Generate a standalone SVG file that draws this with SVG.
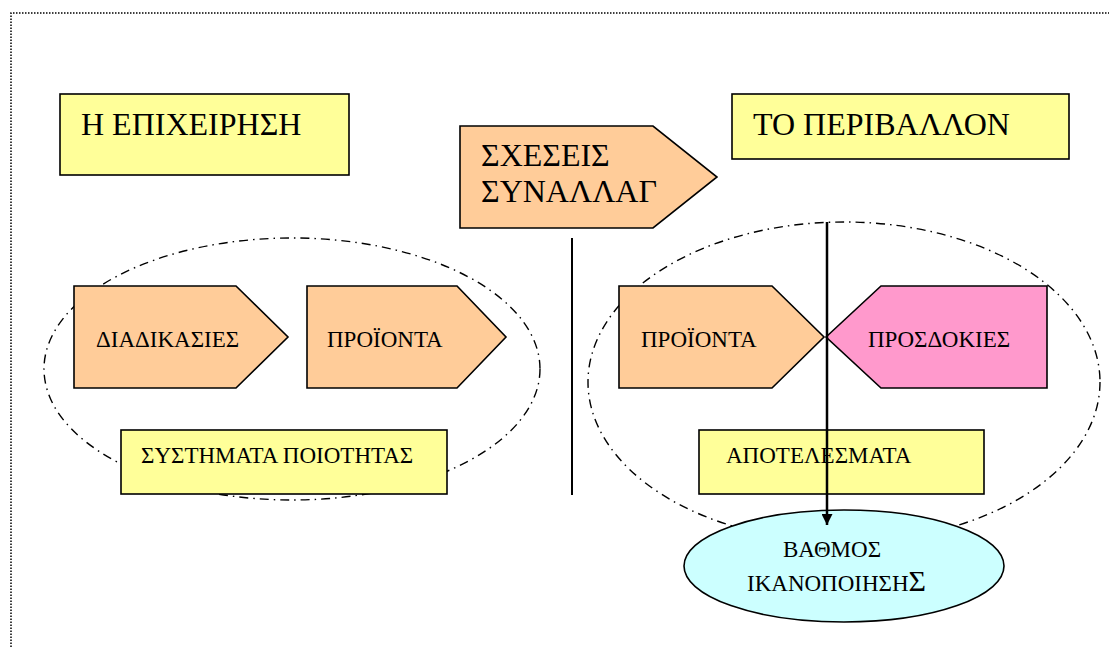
<svg xmlns="http://www.w3.org/2000/svg" width="1109" height="647" viewBox="0 0 1109 647">
  <style>
    .frame { fill: none; stroke: #000; stroke-width: 1.5; stroke-dasharray: 1.5 1.5; }
    .group { fill: none; stroke: #000; stroke-width: 1.4; stroke-dasharray: 9 5 1.5 5; }
    .box { fill: #FFFF99; stroke: #000; stroke-width: 1.6; }
    .orange { fill: #FFCC99; stroke: #000; stroke-width: 1.6; }
    .pink { fill: #FF99CC; stroke: #000; stroke-width: 1.6; }
    .result { fill: #CCFFFF; stroke: #000; stroke-width: 1.6; }
    .conn { fill: none; stroke: #000; stroke-width: 2.5; }
    text { font-family: "Liberation Serif", "DejaVu Serif", "Noto Serif", serif; fill: #000; }
    .big { font-size: 32px; }
    .small { font-size: 23px; }
  </style>
  <defs>
    <marker id="head" viewBox="0 0 10 10" refX="10" refY="5" markerWidth="4.4" markerHeight="4.4" markerUnits="strokeWidth" orient="auto">
      <path d="M0,0 L10,5 L0,10 Z" fill="#000"/>
    </marker>
  </defs>

  <rect width="1109" height="647" fill="#fff"/>

  <!-- page frame -->
  <path class="frame" d="M11,647 V13 H1109"/>

  <!-- grouping ellipses -->
  <g id="groups">
    <ellipse class="group" cx="292" cy="369" rx="248" ry="131"/>
    <ellipse class="group" cx="844" cy="382" rx="256" ry="160"/>
  </g>

  <g id="company">
    <rect class="box" x="60" y="94" width="289" height="81"/>
    <text class="big" x="81" y="135" font-family="Liberation Serif, DejaVu Serif, serif">Η ΕΠΙΧΕΙΡΗΣΗ</text>
  </g>

  <g id="environment">
    <rect class="box" x="732" y="94" width="337" height="65"/>
    <text class="big" x="753" y="135">ΤΟ ΠΕΡΙΒΑΛΛΟΝ</text>
  </g>

  <g id="transactions">
    <polygon class="orange" points="460,126 653,126 717,177 653,228 460,228"/>
    <text class="big" x="481" y="166">ΣΧΕΣΕΙΣ</text>
    <text class="big" x="481" y="202">ΣΥΝΑΛΛΑΓ</text>
  </g>

  <g id="divider">
    <line x1="572" y1="238" x2="572" y2="495" stroke="#000" stroke-width="2"/>
  </g>

  <g id="processes">
    <polygon class="orange" points="74,286 236,286 288,337 236,388 74,388"/>
    <text class="small" x="96" y="347">ΔΙΑΔΙΚΑΣΙΕΣ</text>
  </g>

  <g id="products-in">
    <polygon class="orange" points="307,286 457,286 506,337 457,388 307,388"/>
    <text class="small" x="327" y="347">ΠΡΟΪΟΝΤΑ</text>
  </g>

  <g id="quality-systems">
    <rect class="box" x="121" y="430" width="326" height="64"/>
    <text class="small" x="141" y="463">ΣΥΣΤΗΜΑΤΑ ΠΟΙΟΤΗΤΑΣ</text>
  </g>

  <g id="products-out">
    <polygon class="orange" points="619,286 772,286 824,337 772,388 619,388"/>
    <text class="small" x="641" y="347">ΠΡΟΪΟΝΤΑ</text>
  </g>

  <g id="expectations">
    <polygon class="pink" points="826,337 881,286 1047,286 1047,388 881,388"/>
    <text class="small" x="868" y="347">ΠΡΟΣΔΟΚΙΕΣ</text>
  </g>

  <g id="results">
    <rect class="box" x="699" y="430" width="285" height="64"/>
    <text class="small" x="726" y="463">ΑΠΟΤΕΛΕΣΜΑΤΑ</text>
  </g>

  <g id="satisfaction">
    <ellipse class="result" cx="844" cy="566" rx="160" ry="56"/>
    <text class="small" x="783" y="557">ΒΑΘΜΟΣ</text>
    <text class="small" x="747" y="591">ΙΚΑΝΟΠΟΙΗΣΗ<tspan font-size="30px">Σ</tspan></text>
  </g>

  <!-- connectors -->
  <g id="connectors">
    <line class="conn" x1="827" y1="222" x2="827" y2="525" marker-end="url(#head)"/>
  </g>
</svg>
